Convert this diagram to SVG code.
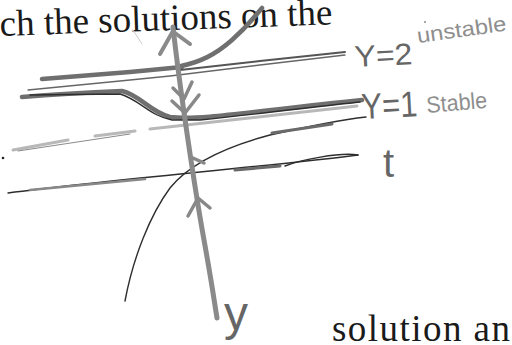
<svg xmlns="http://www.w3.org/2000/svg" width="512" height="345" viewBox="0 0 512 345">
<defs>
<style>
.p{fill:none;stroke-linecap:round;stroke-linejoin:round}
.thick{stroke:#6f6f6f;stroke-width:4.5}
.mid{stroke:#6a6a6a;stroke-width:3}
.thin{stroke:#2e2e2e;stroke-width:1.4}
.light{stroke:#b8b8b8;stroke-width:3}
.print{font-family:"Liberation Serif","DejaVu Serif",serif;fill:#1a1a1a}
.hand{font-family:"Liberation Sans","DejaVu Sans",sans-serif;fill:#666}
.hand2{font-family:"Liberation Sans","DejaVu Sans",sans-serif;fill:#8e8e8e}
</style>
</defs>
<rect width="512" height="345" fill="#fff"/>
<g id="print-text">
<text class="print" x="0" y="36" font-size="37" transform="rotate(-2 0 36)">ch the solutions on the</text>
<text class="print" x="332" y="341" font-size="37" textLength="178" lengthAdjust="spacing">solution an</text>
</g>
<g id="sketch-lines">
<path class="p thick" d="M42,79 L130,72 L182,67"/>
<path class="p" stroke="#555" stroke-width="2" d="M180,70 L260,61 L345,52"/>
<path class="p" stroke="#666" stroke-width="1.3" d="M28,90 L120,81 L170,76 L260,65 L345,55"/>
<path class="p thick" d="M181,66 C200,62 215,55 232,40 S255,16 262,8"/>
<path class="p thick" stroke-width="5" d="M22,97 C60,94 100,92 122,91 C140,95 150,112 170,117 C200,121 260,110 362,100"/>
<path class="p thin" d="M30,95 L120,94 C140,100 150,116 172,120 L200,120 C260,114 320,106 360,102"/>
<path class="p light" d="M13,150 L68,140"/>
<path class="p light" d="M95,136 L135,131 M150,129 L357,106"/>
<path class="p" stroke="#8a8a8a" stroke-width="1" d="M18,151 L130,134"/>
<path class="p thin" d="M125,301 C133,258 150,215 170,188 C190,163 225,147 270,135 C310,126 340,120 366,117"/>
<path class="p mid" d="M272,133 L332,124"/>
<path class="p thin" d="M8,193 C60,186 150,177 200,172 C260,166 320,160 358,155"/>
<path class="p" stroke="#888" stroke-width="2.5" d="M30,190 L145,179"/>
<path class="p mid" d="M235,170 L280,166"/>
<path class="p thin" stroke-width="1.2" d="M358,155 C340,152 300,160 285,166"/>
<path class="p" stroke="#8a8a8a" stroke-width="5" d="M173,27 C180,90 195,190 204,240 S214,300 217,318"/>
<path class="p" stroke="#8a8a8a" stroke-width="4" d="M160,54 L173,31 M175,33 L190,44"/>
<path class="p" stroke="#888" stroke-width="3.5" d="M173,88 L184,99 L192,82 M172,101 L185,113 L199,95"/>
<path class="p" stroke="#888" stroke-width="3.5" d="M193,158 L204,163 M188,216 L198,198 L210,208"/>
<circle cx="3" cy="158" r="1.3" fill="#222"/>
<circle cx="425" cy="22" r="1" fill="#888"/>
<path class="p" stroke="#ccc" stroke-width="1" d="M133,30 L142,44"/>
</g>
<g id="labels">
<text class="hand" x="355" y="67" font-size="30" textLength="58" lengthAdjust="spacingAndGlyphs" transform="rotate(-3 355 67)">Y=2</text>
<text class="hand2" x="418" y="43" font-size="21" textLength="90" lengthAdjust="spacingAndGlyphs" transform="rotate(-8 418 43)">unstable</text>
<text class="hand" x="362" y="119" font-size="36" textLength="56" lengthAdjust="spacingAndGlyphs" transform="rotate(-3 362 119)">Y=1</text>
<text class="hand2" x="427" y="113" font-size="23" textLength="61" lengthAdjust="spacingAndGlyphs" transform="rotate(-5 427 113)">Stable</text>
<text class="hand" x="383" y="177" font-size="40">t</text>
<text class="hand" x="224" y="330" font-size="48">y</text>
</g>
</svg>
